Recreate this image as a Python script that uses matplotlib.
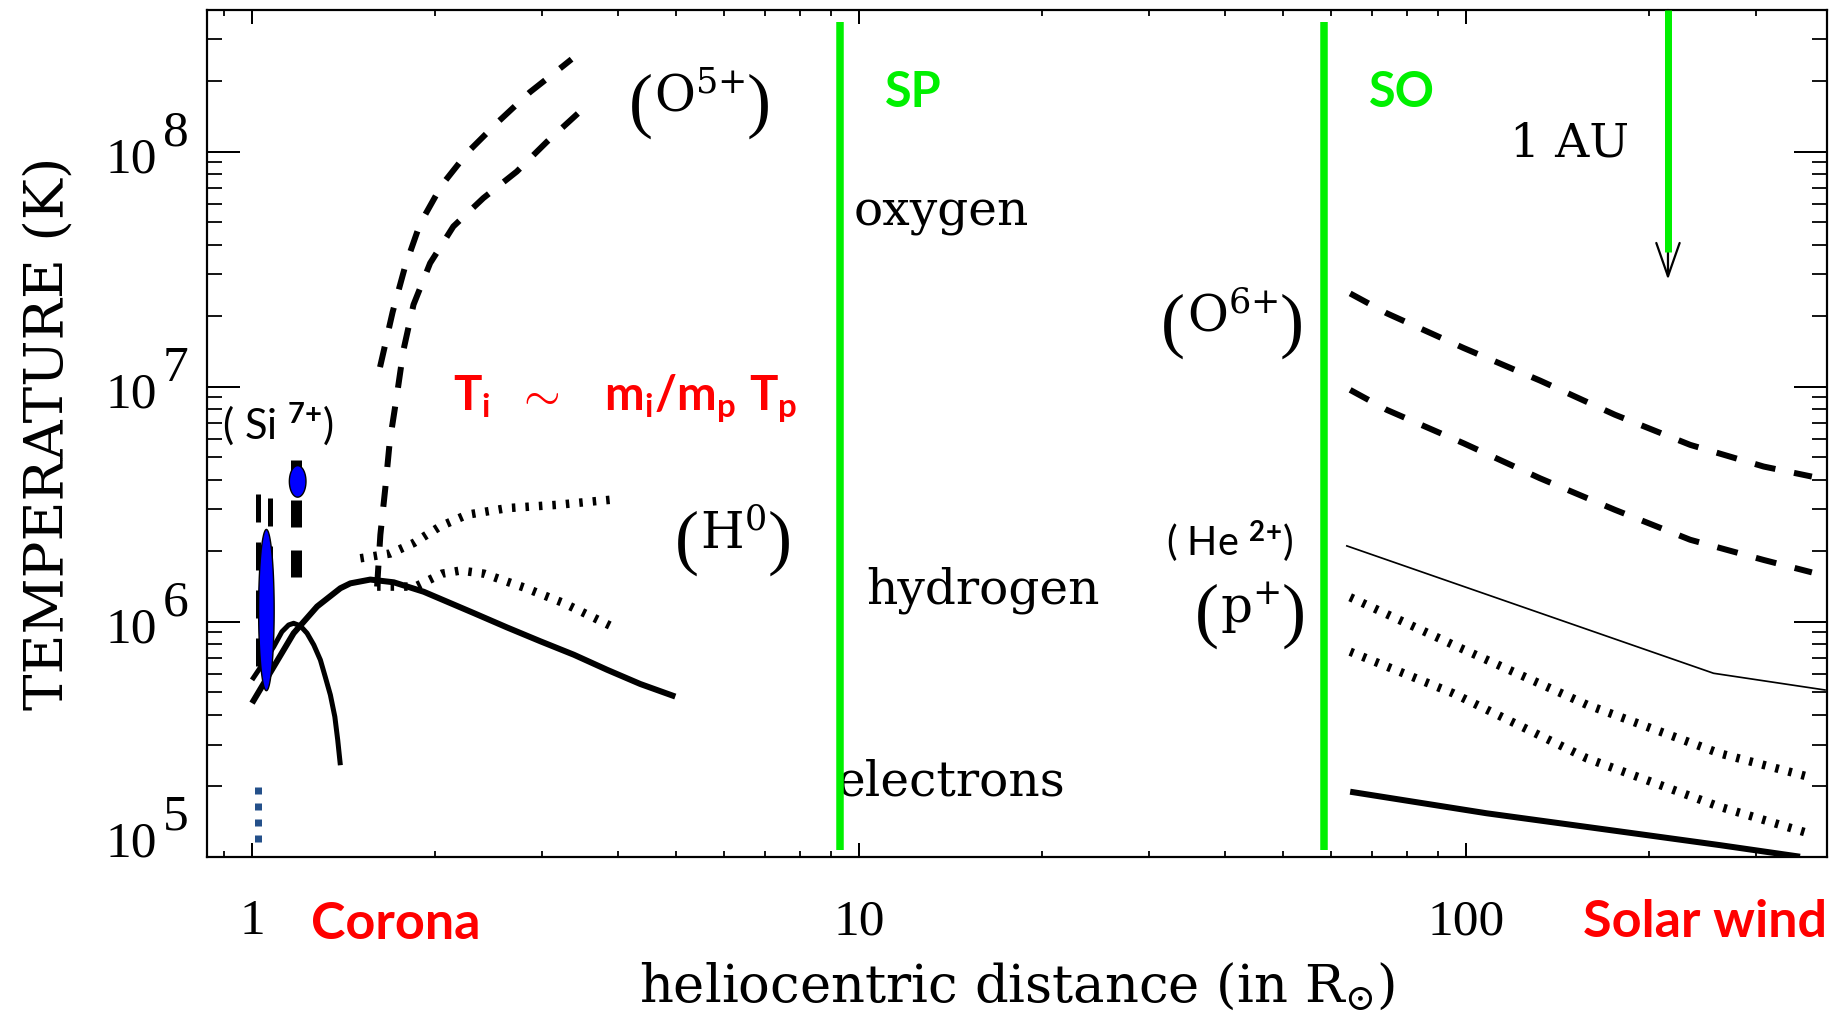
import numpy as np
import matplotlib
matplotlib.use("Agg")
import matplotlib.pyplot as plt
import matplotlib.transforms as mtransforms
from matplotlib.ticker import FixedLocator, LogLocator, NullFormatter

# ---------------- data (r in solar radii, T in kelvin) ----------------
# Corona: electron temperature, broad profile
corona_e_broad_r = [1.00, 1.086, 1.171, 1.28, 1.398, 1.452, 1.566, 1.712, 1.918,
                    2.32, 2.63, 2.985, 3.39, 3.845, 4.36, 4.98]
corona_e_broad_T = [4.5e5, 6.44e5, 8.93e5, 1.16e6, 1.387e6, 1.455e6, 1.51e6,
                    1.47e6, 1.34e6, 1.087e6, 9.45e5, 8.25e5, 7.23e5, 6.24e5,
                    5.43e5, 4.8e5]
# Corona: electron temperature, sharply peaked profile
corona_e_peak_r = [1.00, 1.039, 1.086, 1.12, 1.149, 1.171, 1.201, 1.232, 1.264,
                   1.296, 1.32, 1.346, 1.369, 1.384, 1.398]
corona_e_peak_T = [5.65e5, 6.55e5, 7.83e5, 9.06e5, 9.68e5, 9.84e5, 9.6e5,
                   8.93e5, 7.96e5, 6.87e5, 5.83e5, 4.88e5, 3.94e5, 3.14e5,
                   2.45e5]
# Corona: neutral hydrogen (H0), two profiles
corona_h_upper_r = [1.508, 1.69, 1.846, 2.04, 2.26, 2.63, 3.18, 3.99]
corona_h_upper_T = [1.86e6, 1.95e6, 2.16e6, 2.54e6, 2.85e6, 3.04e6, 3.14e6, 3.32e6]
corona_h_lower_r = [1.607, 1.858, 2.056, 2.205, 2.41, 2.80, 3.26, 3.97]
corona_h_lower_T = [1.41e6, 1.41e6, 1.6e6, 1.65e6, 1.6e6, 1.4e6, 1.2e6, 9.37e5]
# Corona: O5+ temperature, two profiles
corona_o_upper_r = [1.625, 1.705, 1.787, 1.891, 2.054, 2.272, 2.545, 2.87, 3.26, 3.36]
corona_o_upper_T = [1.21e7, 2.08e7, 3.24e7, 4.92e7, 7.2e7, 1.0e8, 1.34e8,
                    1.79e8, 2.32e8, 2.47e8]
corona_o_lower_r = [1.607, 1.627, 1.658, 1.686, 1.731, 1.776, 1.845, 1.965,
                    2.146, 2.405, 2.73, 3.06, 3.45, 3.54]
corona_o_lower_T = [1.41e6, 2.34e6, 3.71e6, 5.83e6, 9.06e6, 1.43e7, 2.23e7,
                    3.35e7, 4.8e7, 6.34e7, 8.22e7, 1.1e8, 1.46e8, 1.53e8]
# Si7+ measurements near the limb: ranges (dashed) and blue ellipses
si_range1_r = [1.022, 1.069]
si_range1_T = [6.5e5, 3.57e6]
si_range2_r = [1.182]
si_range2_T = [1.55e6, 4.87e6]
si_ell_r = [1.056, 1.189]            # centres
si_ell_T = [1.12e6, 3.95e6]
si_ell_dlogr = [0.0128, 0.0137]      # half-extent in decades
si_ell_dlogT = [0.343, 0.067]
limb_r = [1.022, 1.022]
limb_T = [1.16e5, 1.99e5]

# Solar wind (beyond ~60 R_sun)
wind_r = [64.4, 74.0, 99.0, 132.4, 175.8, 233.9, 309.0, 371.1]
wind_o_upper_T = [2.49e7, 2.05e7, 1.46e7, 1.06e7, 7.59e6, 5.65e6, 4.57e6, 4.14e6]
wind_o_lower_T = [9.68e6, 7.96e6, 5.74e6, 4.07e6, 2.99e6, 2.23e6, 1.83e6, 1.62e6]
wind_he_r = [63.6, 255.6, 390.0]
wind_he_T = [2.1e6, 6.03e5, 5.12e5]
wind_p_r = [64.4, 95.3, 158.1, 261.8, 373.3]
wind_p_upper_T = [1.27e6, 7.96e5, 4.43e5, 2.75e5, 2.16e5]
wind_p_lower_T = [7.45e5, 4.95e5, 2.62e5, 1.63e5, 1.24e5]
wind_e_r = [64.4, 108.1, 179.5, 261.8, 354.8]
wind_e_T = [1.89e5, 1.53e5, 1.28e5, 1.12e5, 1.0e5]

# Spacecraft perihelia and 1 AU marker
probe_r = [9.3, 58.3]
probe_names = ['SP', 'SO']
probe_T = [1.07e5, 3.56e8]
au_r = 215.0
au_T_tip = 2.85e7
au_T_green = 3.75e7

x_ticks = [1, 10, 100]
x_tick_labels = ['1', '10', '100']
y_ticks = [1e5, 1e6, 1e7, 1e8]
y_tick_exps = ['5', '6', '7', '8']

# ---------------- styling ----------------
PX = 0.72   # points per pixel at 100 dpi
plt.rcParams['font.family'] = ['DejaVu Serif']
plt.rcParams['mathtext.fontset'] = 'dejavuserif'
plt.rcParams['mathtext.rm'] = 'Lato'
plt.rcParams['mathtext.it'] = 'Lato:italic'
plt.rcParams['mathtext.bf'] = 'Lato:bold'
plt.rcParams['mathtext.sf'] = 'Lato'
plt.rcParams['lines.scale_dashes'] = False

GREEN = '#00F000'
RED = '#FF0000'

fig = plt.figure(figsize=(18.47, 10.23), dpi=100)
ax = fig.add_axes([207 / 1847, 1 - 856.7 / 1023, 1620 / 1847, 846.7 / 1023])
ax.set_xscale('log')
ax.set_yscale('log')
ax.set_xlim(0.843, 393)
ax.set_ylim(1e5, 4.0e8)

DASH = (0, (21 * PX, 19 * PX))
DOT = (0, (3.5 * PX, 10 * PX))
lw_dash = 6 * PX
lw_dot = 8.5 * PX
lw_thick = 6 * PX

# corona
ax.plot(corona_e_broad_r, corona_e_broad_T, color='black', lw=lw_thick,
        solid_capstyle='butt', solid_joinstyle='round', zorder=3)
ax.plot(corona_e_peak_r, corona_e_peak_T, color='black', lw=5 * PX,
        solid_capstyle='butt', solid_joinstyle='round', zorder=3)
for r, T in [(corona_h_upper_r, corona_h_upper_T), (corona_h_lower_r, corona_h_lower_T)]:
    ax.plot(r, T, color='black', lw=lw_dot, linestyle=DOT, dash_capstyle='butt', zorder=3)
for r, T in [(corona_o_upper_r, corona_o_upper_T), (corona_o_lower_r, corona_o_lower_T)]:
    ax.plot(r, T, color='black', lw=lw_dash, linestyle=DASH, dash_capstyle='butt', zorder=3)

# Si7+ ranges
ax.plot([si_range1_r[0], si_range1_r[0], si_range1_r[1], si_range1_r[1]],
        [si_range1_T[0], si_range1_T[1], si_range1_T[1], si_range1_T[0]],
        color='black', lw=5 * PX, linestyle=(0, (28 * PX, 20 * PX)),
        dash_capstyle='butt', zorder=3)
ax.plot([si_range2_r[0], si_range2_r[0]], si_range2_T, color='black', lw=11 * PX,
        linestyle=(0, (27 * PX, 23 * PX)), dash_capstyle='butt', zorder=3)
t = np.linspace(0, 2 * np.pi, 240)
for rc, Tc, dr, dT in zip(si_ell_r, si_ell_T, si_ell_dlogr, si_ell_dlogT):
    ex = 10 ** (np.log10(rc) + dr * np.cos(t))
    ey = 10 ** (np.log10(Tc) + dT * np.sin(t))
    ax.fill(ex, ey, facecolor='#0000FF', edgecolor='black', lw=1.0, zorder=4)
ax.plot(limb_r, limb_T, color='#24508A', lw=7 * PX,
        linestyle=(0, (7 * PX, 9 * PX)), dash_capstyle='butt', zorder=3)

# solar wind
for T in (wind_o_upper_T, wind_o_lower_T):
    ax.plot(wind_r, T, color='black', lw=lw_dash, linestyle=DASH, dash_capstyle='butt', zorder=3)
ax.plot(wind_he_r, wind_he_T, color='black', lw=1.7 * PX, zorder=3)
for T in (wind_p_upper_T, wind_p_lower_T):
    ax.plot(wind_p_r, T, color='black', lw=lw_dot, linestyle=DOT, dash_capstyle='butt', zorder=3)
ax.plot(wind_e_r, wind_e_T, color='black', lw=lw_thick, solid_capstyle='butt', zorder=3)

# spacecraft perihelion lines
for r in probe_r:
    ax.plot([r, r], probe_T, color=GREEN, lw=7.5 * PX, solid_capstyle='butt', zorder=6)

# 1 AU arrow
ax.annotate('', xy=(au_r, au_T_tip), xytext=(au_r, 4.0e8),
            arrowprops=dict(arrowstyle='->,head_length=1.2,head_width=0.42',
                            lw=1.6, color='black', shrinkA=0, shrinkB=0,
                            mutation_scale=20), zorder=5)
ax.plot([au_r, au_r], [4.0e8, au_T_green], color=GREEN, lw=7 * PX,
        solid_capstyle='butt', zorder=6, clip_on=False)

# ---------------- axes, ticks ----------------
for s in ax.spines.values():
    s.set_linewidth(2.2 * PX)
ax.xaxis.set_major_locator(FixedLocator(x_ticks))
ax.set_xticklabels(x_tick_labels)
ax.xaxis.set_minor_locator(LogLocator(base=10, subs=np.arange(2, 10)))
ax.xaxis.set_minor_formatter(NullFormatter())
ax.yaxis.set_major_locator(FixedLocator(y_ticks))
ax.yaxis.set_minor_locator(LogLocator(base=10, subs=np.arange(2, 10)))
ax.yaxis.set_major_formatter(NullFormatter())
ax.yaxis.set_minor_formatter(NullFormatter())
ax.tick_params(axis='x', which='both', direction='in', top=True, bottom=True)
ax.tick_params(axis='x', which='major', length=14 * PX, width=2 * PX, pad=42 * PX,
               labelsize=37, labelfontfamily='Liberation Serif')
ax.tick_params(axis='x', which='minor', length=6 * PX, width=1.8 * PX)
ax.tick_params(axis='y', which='both', direction='in', left=True, right=True)
ax.tick_params(axis='y', which='major', length=33 * PX, width=2 * PX)
ax.tick_params(axis='y', which='minor', length=15 * PX, width=1.8 * PX)

# y tick labels: "10" with a full-size raised exponent
for v, e in zip(y_ticks, y_tick_exps):
    lift = 21 * PX if v == y_ticks[0] else 0
    ax.annotate('10', xy=(0, v), xycoords=('axes fraction', 'data'),
                xytext=(-50 * PX, -21 * PX + lift), textcoords='offset points',
                ha='right', va='baseline', fontsize=37, family='Liberation Serif')
    ax.annotate(e, xy=(0, v), xycoords=('axes fraction', 'data'),
                xytext=(-44 * PX, 6 * PX + lift), textcoords='offset points',
                ha='left', va='baseline', fontsize=37, family='Liberation Serif')

ax.set_xlabel(r'heliocentric distance (in R$_{\odot}$)', fontsize=38)
ax.xaxis.set_label_coords(0.5, -0.124)
ax.set_ylabel('TEMPERATURE (K)', fontsize=39.5)
ax.yaxis.set_label_coords(-0.0815, 0.5)


# ---------------- labels ----------------
def ion_label(x, y, body, size=36, psize=52):
    """Ion symbol with tall, thin parentheses around it."""
    t = ax.text(x, y, body, ha='center', va='center', fontsize=size, zorder=2)
    ax.annotate('(', xy=(0, 0.5), xycoords=t, xytext=(-1, -8 * PX),
                textcoords='offset points', ha='right', va='center',
                fontsize=psize, family='Liberation Serif')
    ax.annotate(')', xy=(1, 0.5), xycoords=t, xytext=(1, -8 * PX),
                textcoords='offset points', ha='left', va='center',
                fontsize=psize, family='Liberation Serif')


ion_label(5.47, 1.69e8, r'$\mathrm{O}^{5{+}}$')
ion_label(41.2, 1.96e7, r'$\mathrm{O}^{6{+}}$')
ion_label(6.21, 2.34e6, r'$\mathrm{H}^{0}$')
ion_label(44.1, 1.14e6, r'$\mathrm{p}^{{+}}$')

ax.text(9.81, 4.83e7, 'oxygen', ha='left', va='baseline', fontsize=35, zorder=2)
ax.text(10.27, 1.2e6, 'hydrogen', ha='left', va='baseline', fontsize=35, zorder=2)
ax.text(9.17, 1.83e5, 'electrons', ha='left', va='baseline', fontsize=35, zorder=2)
ax.text(118.2, 9.5e7, '1 AU', ha='left', va='baseline', fontsize=34)

for r, name in zip(probe_r, probe_names):
    ax.text(r * 1.187, 1.55e8, name, color=GREEN, family='Lato', weight='bold',
            fontsize=35, ha='left', va='baseline')

ax.text(0.892, 6.87e6, r'$(\ \mathrm{Si}\ {}^{\mathbf{7{+}}})$', math_fontfamily='custom',
        fontsize=30, ha='left', va='center')
ax.text(51.9, 2.19e6, r'$(\ \mathrm{He}\ {}^{\mathbf{2{+}}})$', math_fontfamily='custom',
        fontsize=28.5, ha='right', va='center')
ax.text(2.143, 7.96e6, r'$\mathbf{T_i\ \ \sim\ \ \ m_i/m_p\ T_p}$',
        math_fontfamily='custom', color=RED, fontsize=34, ha='left', va='baseline')

xa = mtransforms.blended_transform_factory(ax.transData, ax.transAxes)
ax.text(1.251, -0.0972, 'Corona', transform=xa, color=RED, family='Lato',
        weight='bold', fontsize=37.5, ha='left', va='baseline')
ax.text(1.0, -0.095, 'Solar wind', transform=ax.transAxes, color=RED, family='Lato',
        weight='bold', fontsize=37.5, ha='right', va='baseline')

fig.savefig('out.png', dpi=100, facecolor='white')
